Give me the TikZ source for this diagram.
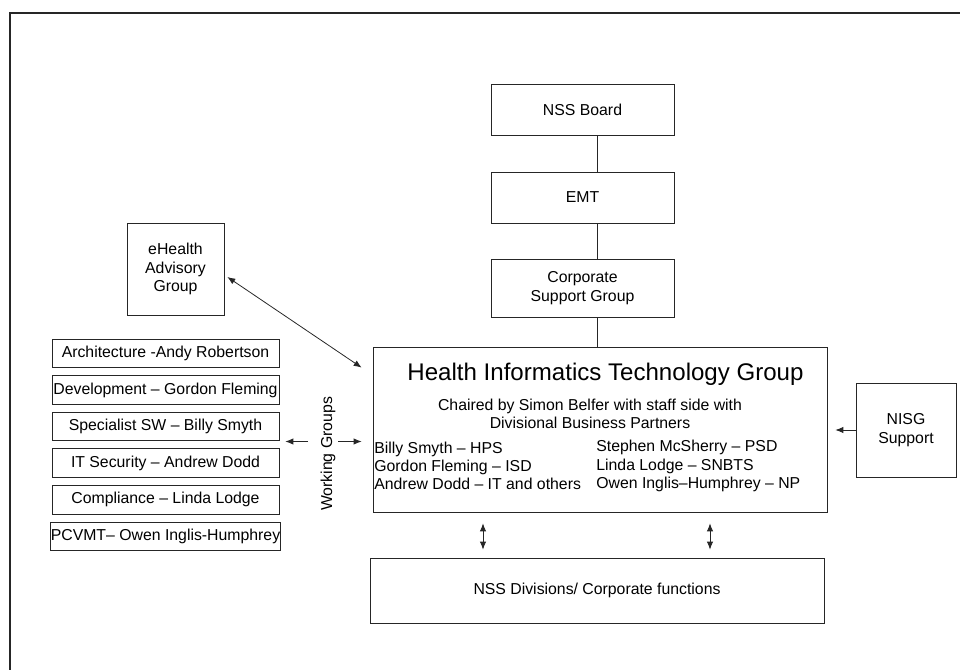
\documentclass[tikz,border=0pt]{standalone}
\usepackage{fontspec}
\setmainfont{Liberation Sans}
\usepackage{tikz}
\usetikzlibrary{arrows.meta}
\tikzset{
  box/.style={draw=black!85, line width=0.45pt, inner sep=1pt, align=center, font=\fontsize{9}{10.6}\selectfont},
  wgbox/.style={box, inner xsep=0pt, minimum width=4.54cm, minimum height=0.57cm},
  link/.style={draw=black!85, line width=0.45pt},
  arr/.style={link, ->},
  txt/.style={inner sep=0pt, font=\fontsize{9}{10.4}\selectfont}
}

\begin{document}
\begin{tikzpicture}[>={Latex[length=4.5pt,width=3.6pt]}]
\useasboundingbox (0,0) rectangle (19.2,13.4);
% Outer frame
\draw[line width=1.6pt, black!85] (0.2,0) -- (0.2,13.14) -- (19.2,13.14);

% Governance chain
\node[box, minimum width=3.66cm, minimum height=1.02cm] (board) at (11.65,11.21) {NSS Board};
\node[box, minimum width=3.66cm, minimum height=1.02cm] (emt) at (11.65,9.45) {EMT};
\node[box, minimum width=3.66cm, minimum height=1.16cm] (csg) at (11.65,7.64) {Corporate\\Support Group};

% Main group
\node[box, minimum width=9.08cm, minimum height=3.3cm] (hitg) at (12.0,4.81) {};
\node[txt, font=\fontsize{13.7}{15}\selectfont] (title) at (12.11,5.92) {Health Informatics Technology Group};
\node[txt, align=center] (chair) at (11.8,5.12) {Chaired by Simon Belfer with staff side with\\Divisional Business Partners};
\node[txt, anchor=west, align=left] (dbpl) at (7.48,4.08) {Billy Smyth -- HPS\\Gordon Fleming -- ISD\\Andrew Dodd -- IT and others};
\node[txt, anchor=west, align=left] (dbpr) at (11.92,4.08) {Stephen McSherry -- PSD\\Linda Lodge -- SNBTS\\Owen Inglis--Humphrey -- NP};

% Divisions
\node[box, minimum width=9.08cm, minimum height=1.3cm] (div) at (11.94,1.59) {NSS Divisions/ Corporate functions};

% Side boxes
\node[box, minimum width=1.94cm, minimum height=1.84cm] (ehealth) at (3.51,8.02) {eHealth\\Advisory\\Group};
\node[box, minimum width=2.0cm, minimum height=1.88cm] (nisg) at (18.12,4.8) {NISG\\Support};

% Working groups
\foreach \n/\lbl [count=\i from 0] in {ws1/Architecture -Andy Robertson,
    ws2/Development -- Gordon Fleming,
    ws3/Specialist SW -- Billy Smyth,
    ws4/IT Security -- Andrew Dodd,
    ws5/Compliance -- Linda Lodge,
    ws6/PCVMT-- Owen Inglis-Humphrey}
  \node[wgbox] (\n) at (3.31,6.33-0.731*\i) {\lbl};
\node[txt, rotate=90] (wg) at (6.56,4.32) {Working Groups};
\coordinate (wgl) at (6.16,4.57);
\coordinate (wgr) at (6.76,4.57);

% Connectors
\draw[link] (board.south -| div.north) -- (emt.north -| div.north);
\draw[link] (emt.south -| div.north) -- (csg.north -| div.north);
\draw[link] (csg.south -| div.north) -- (hitg.north -| div.north);
\draw[link, <->] ([shift={(0.06,-0.16)}]ehealth.east) -- ([shift={(-0.22,-0.42)}]hitg.north west);
\draw[arr, shorten >=0.12cm] (wgl) -- (wgl -| ws3.east);
\draw[arr, shorten >=0.22cm] (wgr) -- (wgr -| hitg.west);
\draw[arr, shorten >=0.16cm] (nisg.west) -- (nisg.west -| hitg.east);
\draw[link, <->, shorten <=0.22cm, shorten >=0.16cm] ([xshift=-2.34cm]hitg.south) -- ([xshift=-2.34cm]hitg.south |- div.north);
\draw[link, <->, shorten <=0.22cm, shorten >=0.16cm] ([xshift=2.2cm]hitg.south) -- ([xshift=2.2cm]hitg.south |- div.north);
\end{tikzpicture}
\end{document}
